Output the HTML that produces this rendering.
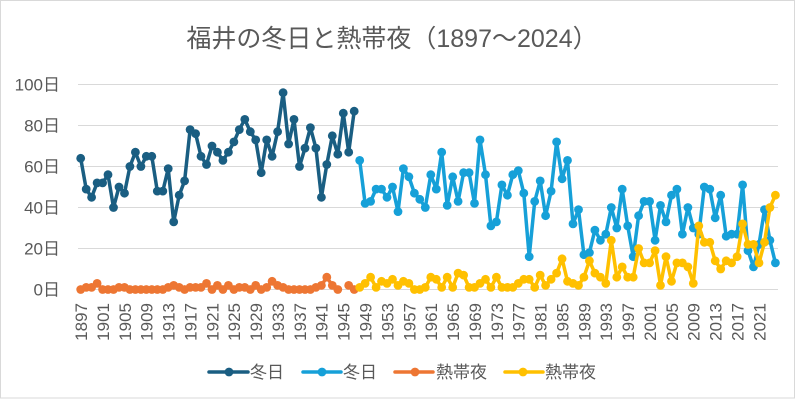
<!DOCTYPE html>
<html><head><meta charset="utf-8">
<style>
html,body{margin:0;padding:0;background:#fff;}
svg{display:block;}
text{font-family:"Liberation Sans","Noto Sans CJK JP",sans-serif;fill:#595959;}
</style></head>
<body>
<svg id="c" width="800" height="401" viewBox="0 0 800 401" xmlns="http://www.w3.org/2000/svg">
<rect x="0" y="0" width="800" height="401" fill="#fff"/>
<rect x="0.5" y="0.5" width="794" height="397.5" fill="#fff" stroke="#d9d9d9" stroke-width="1"/>
<text x="392" y="47" font-size="25" text-anchor="middle">福井の冬日と熱帯夜（1897～2024）</text>
<g stroke="#d9d9d9" stroke-width="1">
<line x1="78" x2="778" y1="84.5" y2="84.5"/>
<line x1="78" x2="778" y1="125.5" y2="125.5"/>
<line x1="78" x2="778" y1="166.5" y2="166.5"/>
<line x1="78" x2="778" y1="207.5" y2="207.5"/>
<line x1="78" x2="778" y1="248.5" y2="248.5"/>
<line x1="78" x2="778" y1="289.5" y2="289.5"/>
</g>
<g font-size="17" text-anchor="end">
<text x="60" y="90.5">100日</text>
<text x="60" y="131.5">80日</text>
<text x="60" y="172.5">60日</text>
<text x="60" y="213.5">40日</text>
<text x="60" y="254.5">20日</text>
<text x="60" y="295.5">0日</text>
</g>
<g font-size="17" text-anchor="end">
<text transform="translate(87,303) rotate(-90)">1897</text>
<text transform="translate(108.9,303) rotate(-90)">1901</text>
<text transform="translate(130.8,303) rotate(-90)">1905</text>
<text transform="translate(152.7,303) rotate(-90)">1909</text>
<text transform="translate(174.5,303) rotate(-90)">1913</text>
<text transform="translate(196.4,303) rotate(-90)">1917</text>
<text transform="translate(218.3,303) rotate(-90)">1921</text>
<text transform="translate(240.2,303) rotate(-90)">1925</text>
<text transform="translate(262.1,303) rotate(-90)">1929</text>
<text transform="translate(284,303) rotate(-90)">1933</text>
<text transform="translate(305.8,303) rotate(-90)">1937</text>
<text transform="translate(327.7,303) rotate(-90)">1941</text>
<text transform="translate(349.6,303) rotate(-90)">1945</text>
<text transform="translate(371.5,303) rotate(-90)">1949</text>
<text transform="translate(393.4,303) rotate(-90)">1953</text>
<text transform="translate(415.3,303) rotate(-90)">1957</text>
<text transform="translate(437.1,303) rotate(-90)">1961</text>
<text transform="translate(459,303) rotate(-90)">1965</text>
<text transform="translate(480.9,303) rotate(-90)">1969</text>
<text transform="translate(502.8,303) rotate(-90)">1973</text>
<text transform="translate(524.7,303) rotate(-90)">1977</text>
<text transform="translate(546.6,303) rotate(-90)">1981</text>
<text transform="translate(568.4,303) rotate(-90)">1985</text>
<text transform="translate(590.3,303) rotate(-90)">1989</text>
<text transform="translate(612.2,303) rotate(-90)">1993</text>
<text transform="translate(634.1,303) rotate(-90)">1997</text>
<text transform="translate(656,303) rotate(-90)">2001</text>
<text transform="translate(677.9,303) rotate(-90)">2005</text>
<text transform="translate(699.7,303) rotate(-90)">2009</text>
<text transform="translate(721.6,303) rotate(-90)">2013</text>
<text transform="translate(743.5,303) rotate(-90)">2017</text>
<text transform="translate(765.4,303) rotate(-90)">2021</text>
</g>
<g id="series"></g>
<!-- legend -->
<g stroke-width="3.5" stroke-linecap="round">
<line x1="209" x2="248" y1="372" y2="372" stroke="#1a5e82"/>
<circle cx="229" cy="372" r="4.4" fill="#1a5e82" stroke="none"/>
<line x1="303" x2="341" y1="372" y2="372" stroke="#16a0d8"/>
<circle cx="322" cy="372" r="4.4" fill="#16a0d8" stroke="none"/>
<line x1="395" x2="433" y1="372" y2="372" stroke="#ed7633"/>
<circle cx="415" cy="372" r="4.4" fill="#ed7633" stroke="none"/>
<line x1="505" x2="543" y1="372" y2="372" stroke="#ffc000"/>
<circle cx="523" cy="372" r="4.4" fill="#ffc000" stroke="none"/>
</g>
<g font-size="17">
<text x="250" y="378">冬日</text>
<text x="343" y="378">冬日</text>
<text x="436" y="378">熱帯夜</text>
<text x="545" y="378">熱帯夜</text>
</g>
</svg>
<script>
(function(){
var NS="http://www.w3.org/2000/svg";
function X(i){return 80.7+5.47*i;}
function Y(v){return 289.5-2.05*v;}
var dk=[64,49,45,52,52,56,40,50,47,60,67,60,65,65,48,48,59,33,46,53,78,76,65,61,70,67,63,67,72,78,83,77,73,57,73,65,77,96,71,83,60,69,79,69,45,61,75,66,86,67,87];
var lt=[63,42,43,49,49,45,50,38,59,55,47,44,40,56,49,67,41,55,43,57,57,42,73,56,31,33,51,46,56,58,47,16,43,53,36,48,72,54,63,32,39,17,18,29,24,27,40,30,49,31,16,36,43,43,24,41,33,46,49,27,40,30,27,50,49,35,46,26,27,27,51,19,11,22,39,24,13];
var or=[0,1,1,3,0,0,0,1,1,0,0,0,0,0,0,0,1,2,1,0,1,1,1,3,0,2,0,2,0,1,1,0,2,0,1,4,2,1,0,0,0,0,0,1,2,6,2,0,null,2,0];
var ye=[1,3,6,1,4,3,5,2,4,3,0,0,1,6,5,1,6,1,8,7,1,1,3,5,1,6,1,1,1,3,5,5,1,7,2,5,8,15,4,3,2,6,14,8,6,3,24,6,11,6,6,20,13,13,19,2,16,4,13,13,11,3,31,23,23,14,10,14,13,16,32,22,22,13,23,40,46];
var g=document.getElementById("series");
function draw(data,start,color){
  var segs=[],cur=[];
  for(var k=0;k<data.length;k++){
    if(data[k]===null){if(cur.length)segs.push(cur);cur=[];continue;}
    cur.push([X(start+k),Y(data[k])]);
  }
  if(cur.length)segs.push(cur);
  segs.forEach(function(s){
    var p=document.createElementNS(NS,"polyline");
    p.setAttribute("points",s.map(function(q){return q[0].toFixed(1)+","+q[1].toFixed(1);}).join(" "));
    p.setAttribute("fill","none");p.setAttribute("stroke",color);
    p.setAttribute("stroke-width","3.5");p.setAttribute("stroke-linejoin","round");
    g.appendChild(p);
  });
  segs.forEach(function(s){s.forEach(function(q){
    var c=document.createElementNS(NS,"circle");
    c.setAttribute("cx",q[0].toFixed(1));c.setAttribute("cy",q[1].toFixed(1));
    c.setAttribute("r","4.4");c.setAttribute("fill",color);
    g.appendChild(c);
  });});
}
draw(dk,0,"#1a5e82");
draw(lt,51,"#16a0d8");
draw(or,0,"#ed7633");
draw(ye,51,"#ffc000");
})();
</script>
</body></html>
